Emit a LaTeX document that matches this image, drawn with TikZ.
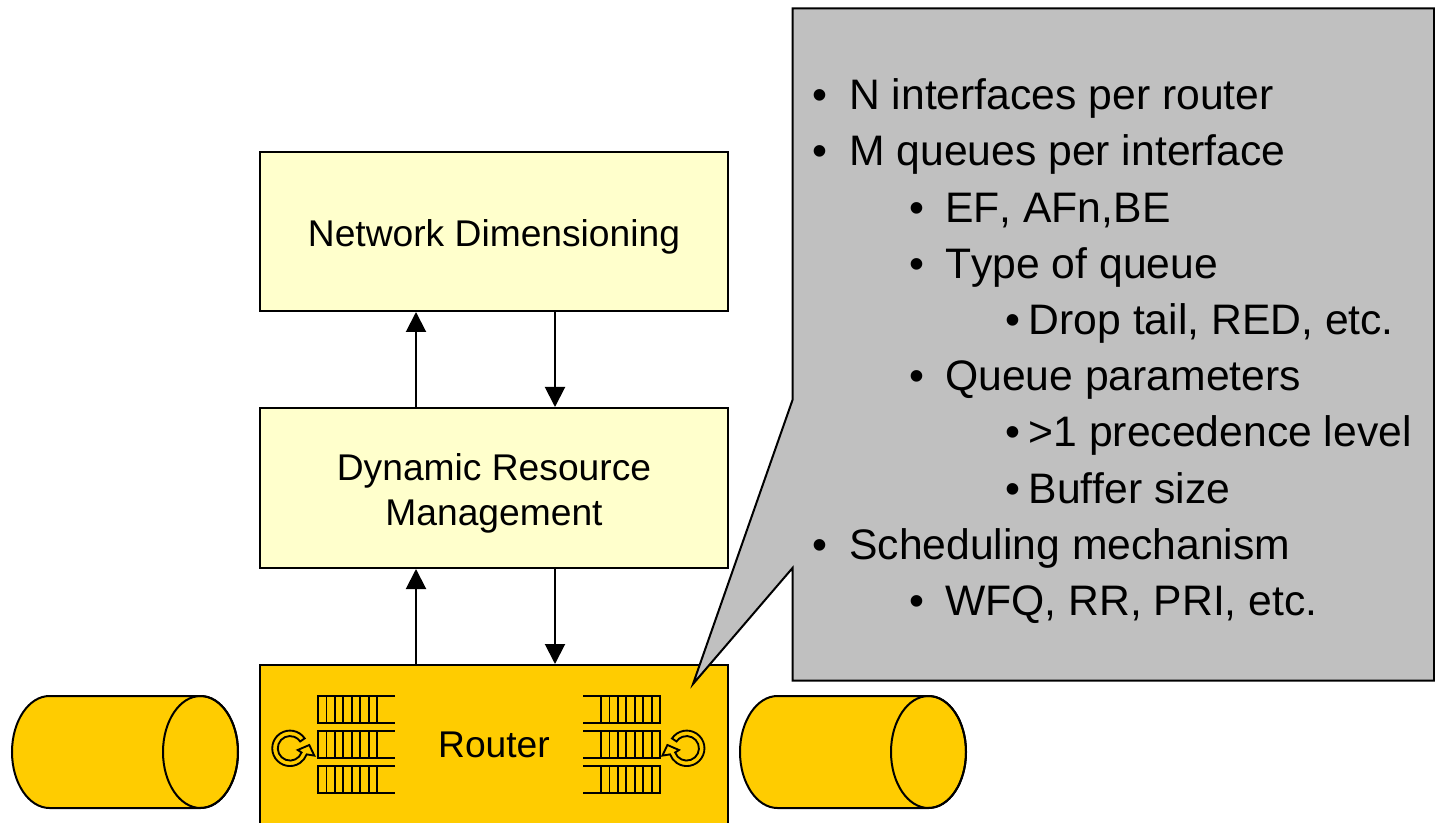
\documentclass[tikz,border=0pt]{standalone}
\usepackage{fontspec}
\setmainfont[Kerning=Off]{Liberation Sans}
\usetikzlibrary{arrows.meta}
\definecolor{paleyel}{HTML}{FFFFCC}
\definecolor{gold}{HTML}{FFCC00}
\definecolor{callgrey}{HTML}{C0C0C0}
\tikzset{
  ln/.style={line width=1.5pt,draw=black},
  blockbox/.style={ln,minimum width=351pt,minimum height=120pt,inner sep=0pt,align=center,font=\fontsize{27.9}{33.75}\selectfont},
  link/.style={ln,-{Triangle[length=15pt,width=15pt]}},
  bul/.style={anchor=base west,inner sep=0pt,font=\fontsize{32}{38}\selectfont},
  qline/.style={line width=1.4pt,line cap=rect},
}
\newcommand{\cyl}[1]{%
  \begin{scope}[shift={(#1,752)},y=.75pt]
    \filldraw[ln,fill=gold] (0,56) -- (-151,56) arc[start angle=90,end angle=270,x radius=28.125pt,y radius=42pt] -- (0,-56) arc[start angle=-90,end angle=90,x radius=28.125pt,y radius=42pt] -- cycle;
    \draw[ln] (0,0) ellipse[x radius=28.125pt,y radius=42pt];
  \end{scope}}
\newcommand{\qrow}[4]{% line start, line end, first vertical, top y
  \draw[qline] (#1,#4) -- (#2,#4) (#1,#4+27) -- (#2,#4+27);
  \foreach \k in {0,...,7} \draw[qline] (#3+\k*8.43,#4) -- (#3+\k*8.43,#4+27);}
\newcommand{\spin}[2]{% centre, xscale
  \begin{scope}[shift={(#1,748.3)},y=.75pt,xscale=#2]
    \draw[line width=1.4pt,line join=miter] (34:17.7) arc[start angle=34,end angle=340,radius=13.3pt] -- (24.3,-7.3) -- (19.3,3.3) -- (7.7,-1.7) -- (340:12.3) arc[start angle=340,end angle=34,radius=9.2pt] -- cycle;
  \end{scope}}
\newcommand{\ind}[1]{\makebox[#1pt][l]{•}}
\newcommand{\lowered}{\rule{0pt}{28pt}}
\begin{document}
\begin{tikzpicture}[x=.75pt,y=-.75pt]
\useasboundingbox (0,0) rectangle (1435,823);
% blocks
\node[blockbox,fill=paleyel,minimum height=119.25pt] (nd) at (494,231.5) {\lowered Network Dimensioning};
\node[blockbox,fill=paleyel] (drm) at (494,488) {\lowered Dynamic Resource\\Management};
\node[blockbox,fill=gold] (router) at (494,745) {Router};
% callout
\filldraw[ln,fill=callgrey,line join=miter] (792.5,8.5) -- (1434,8.5) -- (1434,680.5) -- (792.5,680.5) -- (792.5,568) -- (693,684) -- (792.5,400) -- cycle;
% connectors
\coordinate (up) at (416,0);
\coordinate (down) at (555,0);
\draw[link] (drm.north -| up) -- (nd.south -| up);
\draw[link] (nd.south -| down) -- (drm.north -| down);
\draw[link] (router.north -| up) -- (drm.south -| up);
\draw[link] (drm.south -| down) -- (router.north -| down);
% cylinders
\cyl{200.5}
\cyl{928.5}
% queues
\foreach \yy in {696,731,766} {\qrow{318}{394}{318}{\yy}}
\foreach \yy in {696,731,766} {\qrow{584}{660}{601}{\yy}}
\spin{290}{1}
\spin{686.7}{-1}
% bullet text
\node[bul] (t1) at (812.5,110) {\ind{27.4}N interfaces per router};
\node[bul] (t2) at (812.5,166) {\ind{27.4}M queues per interface};
\node[bul] (t3) at (909.5,223) {\ind{26.6}EF, AFn,BE};
\node[bul] (t4) at (909.5,279) {\ind{26.6}Type of queue};
\node[bul] (t5) at (1005,334.5) {\ind{17.6}Drop tail, RED, etc.};
\node[bul] (t6) at (909.5,391) {\ind{26.6}Queue parameters};
\node[bul] (t7) at (1005,446) {\ind{17.6}>1 precedence level};
\node[bul] (t8) at (1005,503) {\ind{17.6}Buffer size};
\node[bul] (t9) at (812.5,559) {\ind{27.4}Scheduling mechanism};
\node[bul] (t10) at (909.5,615) {\ind{26.6}WFQ, RR, PRI, etc.};
\end{tikzpicture}
\end{document}
